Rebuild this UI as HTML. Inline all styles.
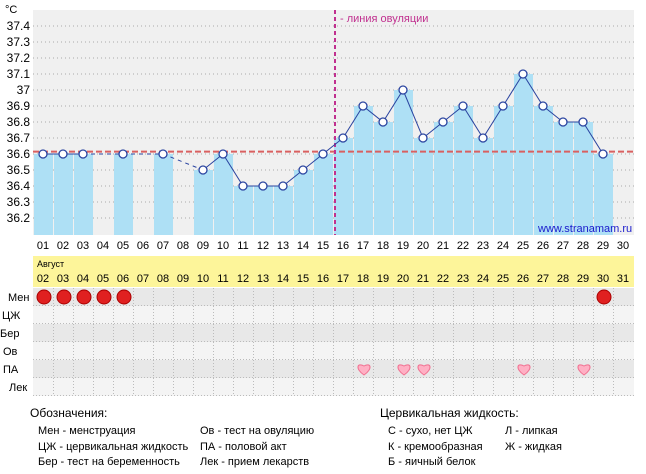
<!DOCTYPE html>
<html><head><meta charset="utf-8"><style>
body{margin:0;background:#fff;}
svg{display:block;font-family:"Liberation Sans",sans-serif;}
</style></head><body>
<svg id="c" width="646" height="474" viewBox="0 0 646 474">
<rect x="33" y="10" width="601" height="225" fill="#f0f0f0"/>
<g id="grid"></g><g id="bars"></g><g id="lines"></g><g id="axes"></g><g id="bottom"></g>
<text x="5" y="13" font-size="11" fill="#000">°C</text>
<text x="340" y="22" font-size="11" fill="#c0308f">- линия овуляции</text>
<text x="538" y="232" font-size="11" fill="#1a1acc">www.stranamam.ru</text>
<g font-size="12" fill="#000">
<text x="30" y="417">Обозначения:</text>
<text x="38" y="434" font-size="11">Мен - менструация</text>
<text x="38" y="450" font-size="11">ЦЖ - цервикальная жидкость</text>
<text x="38" y="465" font-size="11">Бер - тест на беременность</text>
<text x="200" y="434" font-size="11">Ов - тест на овуляцию</text>
<text x="200" y="450" font-size="11">ПА - половой акт</text>
<text x="200" y="465" font-size="11">Лек - прием лекарств</text>
<text x="380" y="417">Цервикальная жидкость:</text>
<text x="388" y="434" font-size="11">С - сухо, нет ЦЖ</text>
<text x="388" y="450" font-size="11">К - кремообразная</text>
<text x="388" y="465" font-size="11">Б - яичный белок</text>
<text x="505" y="434" font-size="11">Л - липкая</text>
<text x="505" y="450" font-size="11">Ж - жидкая</text>
</g>
</svg>
<script>
const days=["01","02","03","04","05","06","07","08","09","10","11","12","13","14","15","16","17","18","19","20","21","22","23","24","25","26","27","28","29","30"];
const temps=[36.6,36.6,36.6,null,36.6,null,36.6,null,36.5,36.6,36.4,36.4,36.4,36.5,36.6,36.7,36.9,36.8,37.0,36.7,36.8,36.9,36.7,36.9,37.1,36.9,36.8,36.8,36.6,null];
const yTicks=[36.2,36.3,36.4,36.5,36.6,36.7,36.8,36.9,37,37.1,37.2,37.3,37.4];
const yTickLabels=["36.2","36.3","36.4","36.5","36.6","36.7","36.8","36.9","37","37.1","37.2","37.3","37.4"];
const coverline=36.615;
const ovulationDay=16;
const dates=["02","03","04","05","06","07","08","09","10","11","12","13","14","15","16","17","18","19","20","21","22","23","24","25","26","27","28","29","30","31"];
const rowLabels=["Мен","ЦЖ","Бер","Ов","ПА","Лек"];
const menDays=[1,2,3,4,5,29];
const paDays=[17,19,20,25,28];

const NS="http://www.w3.org/2000/svg";
const svg=document.getElementById('c');
function mk(tag,attrs,parent){const e=document.createElementNS(NS,tag);for(const k in attrs)e.setAttribute(k,attrs[k]);parent.appendChild(e);return e;}
const X0=33,CW=20,yMin=36.1,yMax=37.5,PT=10,PB=234;
const xs=i=>X0+i*CW+CW/2;
const ys=v=>PB-(v-yMin)/(yMax-yMin)*(PB-PT);
const g=id=>document.getElementById(id);

yTicks.forEach((t,i)=>{
  const l=mk('line',{x1:X0,x2:634,y1:ys(t),y2:ys(t),stroke:'#aaa','stroke-dasharray':'1,3'},g('grid'));
  
  
  const tx=mk('text',{x:30,y:ys(t)+4,'font-size':12,'text-anchor':'end'},g('axes'));
  tx.textContent=yTickLabels[i];
  
  
});
days.forEach((d,i)=>{
  const tx=mk('text',{x:xs(i),y:249,'font-size':11,'text-anchor':'middle'},g('axes'));
  tx.textContent=d;
  
  
  if(temps[i]!=null){
    const b=mk('rect',{x:X0+i*CW+1,y:ys(temps[i]),width:CW-1,height:PB+1-ys(temps[i]),fill:'#aee0f5'},g('bars'));
    
    
  }
});
// coverline
const cl=mk('line',{x1:X0,x2:634,y1:ys(coverline),y2:ys(coverline),stroke:'#d96060','stroke-width':2,'stroke-dasharray':'6,3'},g('lines'));


const ox=X0+(ovulationDay-1)*CW+2;
const ov=mk('line',{x1:ox,x2:ox,y1:10,y2:235,stroke:'#c0308f','stroke-width':2,'stroke-dasharray':'4,3'},g('lines'));


let prev=-1;
temps.forEach((v,i)=>{
  if(v==null)return;
  if(prev>=0){
    const a={x1:xs(prev),y1:ys(temps[prev]),x2:xs(i),y2:ys(v),stroke:'#2a44a0','stroke-width':1};
    if(i-prev>1)a['stroke-dasharray']='4,4';
    const l=mk('line',a,g('lines'));
    
    
  }
  prev=i;
});
temps.forEach((v,i)=>{
  if(v==null)return;
  const c=mk('circle',{cx:xs(i),cy:ys(v),r:4,fill:'#fff',stroke:'#2a44a0','stroke-width':1.3},g('lines'));
  
  
});
// bottom table
const B=g('bottom');
mk('rect',{x:X0,y:256,width:601,height:31,fill:'#fdf59a'},B);
const au=mk('text',{x:37,y:267,'font-size':9},B);au.textContent='Август';


dates.forEach((d,i)=>{
  const t=mk('text',{x:xs(i),y:282,'font-size':11,'text-anchor':'middle'},B);t.textContent=d;
  
  
});
const RH=18,R0=288;
rowLabels.forEach((r,j)=>{
  const rr=mk('rect',{x:X0,y:R0+j*RH,width:601,height:RH,fill:j%2?'#f4f4f4':'#e8e8e8'},B);
  
  
  mk('line',{x1:X0,x2:634,y1:R0+j*RH+RH-0.5,y2:R0+j*RH+RH-0.5,stroke:'#bbb','stroke-dasharray':'1,2'},B);
  const t=mk('text',{x:[8,2,0,3,3,9][j],y:R0+j*RH+13,'font-size':11},B);t.textContent=r;
  
  
});
for(let i=1;i<30;i++){mk('line',{x1:X0+i*CW+0.5,x2:X0+i*CW+0.5,y1:R0,y2:R0+6*RH,stroke:'#bbb','stroke-dasharray':'1,2'},B);}
menDays.forEach(i=>{
  const c=mk('circle',{cx:xs(i-1)+1,cy:R0+9,r:7,fill:'#e02020',stroke:'#a00','stroke-width':1},B);
  
  
});
paDays.forEach(i=>{
  const cx=xs(i-1)+1,cy=R0+4*RH+9;
  const h=mk('path',{d:`M${cx} ${cy+6} C${cx-9} ${cy} ${cx-7} ${cy-7} ${cx} ${cy-3} C${cx+7} ${cy-7} ${cx+9} ${cy} ${cx} ${cy+6}Z`,fill:'#ffb0c4',stroke:'#f07090','stroke-width':1},B);
  
  
});
</script>
</body></html>
